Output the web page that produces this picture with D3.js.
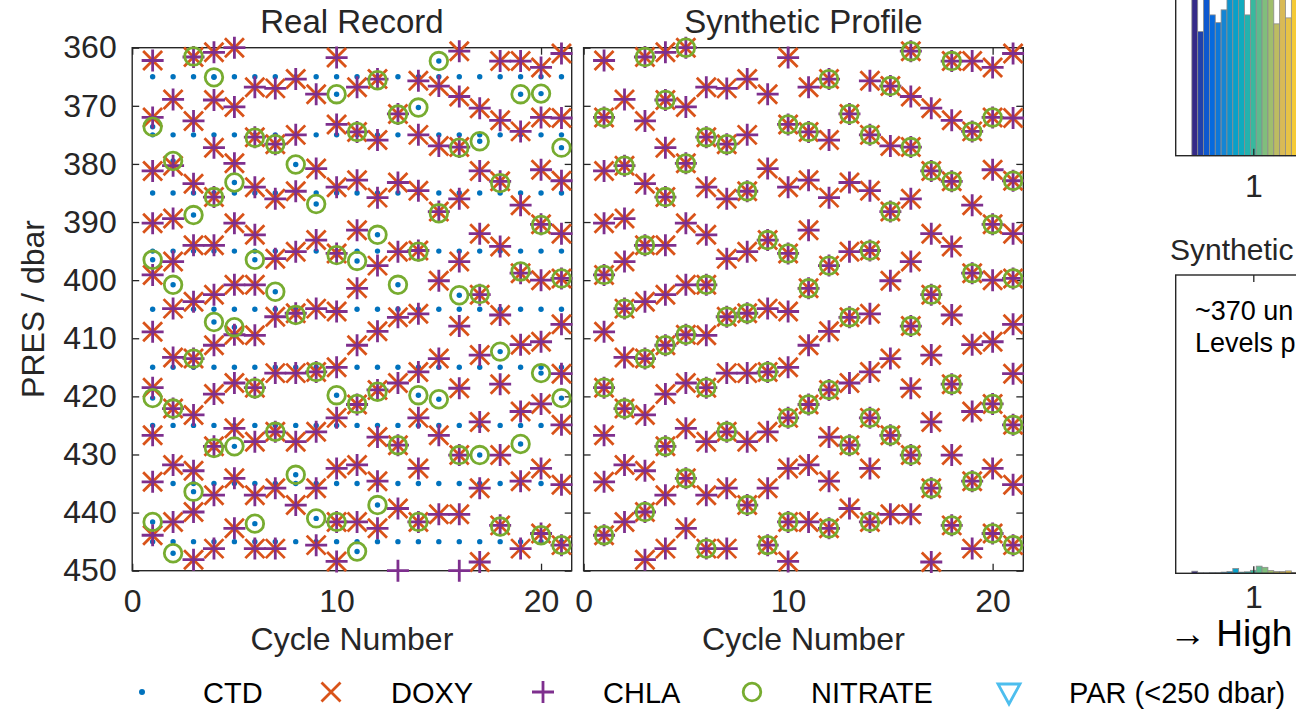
<!DOCTYPE html>
<html><head><meta charset="utf-8">
<script src="https://cdn.jsdelivr.net/npm/d3@7"></script>
<style>
body{margin:0;background:#fff;}
svg{display:block;font-family:"Liberation Sans",Arial,Helvetica,sans-serif;}
</style></head><body>
<svg id="chart" width="1296" height="711"></svg>
<script>
// ---------------- data ----------------
const cycles = [1,2,3,4,5,6,7,8,9,10,11,12,13,14,15,16,17,18,19,20,21];
const presTicks = [360,370,380,390,400,410,420,430,440,450];
const cycleTicks = [0,10,20];
const histTicks = [1];

// CTD sampling levels (real record), same for every cycle
const ctdLevelsReal = [365,375,385,395,405,415,425,435,445];

// DOXY and CHLA share their sampling pressures (per cycle)
const bgcLevels = [
  [362.2,372.0,381.2,390.2,399.1,408.9,418.5,426.7,434.7,443.9],
  [368.9,380.3,389.4,396.8,404.9,413.3,422.1,431.8,441.6],
  [361.6,372.6,383.4,394.0,403.7,413.5,423.2,432.8,439.9,448.1],
  [360.8,369.0,377.2,385.7,394.0,402.5,411.2,419.6,428.6,437.0,446.2],
  [360.0,370.2,379.9,390.2,400.8,409.4,417.7,425.5,434.1,442.7],
  [366.8,375.4,384.0,392.2,400.8,409.5,418.5,427.8,437.0,446.2],
  [367.0,376.6,386.0,396.3,406.3,416.0,426.1,435.8,446.2],
  [365.4,375.0,384.7,395.1,405.7,416.0,427.8,438.7],
  [368.0,380.8,393.1,404.9,415.8,426.1,435.8,445.6],
  [361.7,373.2,384.0,395.4,405.4,415.0,423.7,432.4,441.6,448.4],
  [366.8,374.5,382.8,391.4,401.4,411.2,421.4,431.8,441.6],
  [365.4,375.9,385.8,397.5,408.8,418.9,427.0,434.6,442.7],
  [371.4,383.2,395.1,406.4,417.7,428.4,439.3],
  [365.7,375.0,384.6,394.9,405.8,415.8,423.7,432.4,441.6],
  [366.6,376.9,388.2,400.1,413.5,426.7,440.3],
  [360.6,368.4,377.1,386.0,396.8,407.9,418.6,430.1,440.3],
  [370.4,381.2,392.0,402.5,412.9,424.4,435.8,448.5],
  [362.3,372.5,383.0,394.2,406.0,417.9,430.1,442.2],
  [362.3,374.4,387.1,398.8,411.1,422.6,434.6,446.2],
  [363.4,372.0,381.0,390.4,400.0,410.6,421.3,432.4,443.6],
  [361.0,372.1,382.9,392.0,399.7,407.6,416.1,424.9,435.2,445.6]
];
// CHLA-only samples in the real record [cycle, pres]
const chlaOnlyReal = [[13,450],[16,450]];

// NITRATE, real record (per cycle)
const nitrateReal = [
  [373.6,396.5,420.3,441.6],
  [379.5,400.8,422.1,447.0],
  [361.5,388.8,413.5,436.4],
  [365.1,385.7,407.2,428.9],
  [383.2,408.1,428.6],
  [375.5,396.5,418.6,441.9],
  [376.6,402.0,426.1],
  [380.1,406.0,433.5],
  [386.9,415.8,441.0],
  [368.0,395.7,419.8,441.6],
  [374.5,396.7,421.3,446.7],
  [365.6,392.2,419.2,438.7],
  [371.5,400.8,428.4],
  [370.3,395.1,419.8,441.6],
  [362.3,388.5,420.5],
  [377.2,402.6,430.1],
  [376.1,402.4,430.1],
  [383.3,412.3,442.4],
  [368.0,398.5,428.2],
  [367.9,390.5,416.0,443.9],
  [377.2,399.7,420.3,445.6]
];
// NITRATE, synthetic profile (per cycle)
const nitrateSynth = [
  [372.0,399.1,418.5,443.9],
  [380.3,404.9,422.1],
  [361.6,394.0,413.5,439.9],
  [369.0,385.7,411.2,428.6],
  [360.0,379.9,409.4,434.1],
  [375.4,400.8,418.5,446.2],
  [376.6,406.3,426.1],
  [384.7,405.7,438.7],
  [393.1,415.8,445.6],
  [373.2,395.4,423.7,441.6],
  [374.5,401.4,421.4],
  [365.4,397.5,418.9,442.7],
  [371.4,406.4,428.4],
  [375.0,394.9,423.7,441.6],
  [366.6,388.2,426.7],
  [360.6,377.1,407.9,430.1],
  [381.2,402.5,435.8],
  [362.3,383.0,417.9,442.2],
  [374.4,398.8,434.6],
  [372.0,390.4,421.3,443.6],
  [382.9,399.7,424.9,445.6]
];

// partially visible bar panels on the right (one bar per cycle)
const barsRealPanel  = [60,41.6,60,47.2,44.6,48.9,60,60,60,47.2,60,60,60,60,44.2,60,46.2,60,60,60,60];
const barsSynthPanel = [0.7,0.15,0.15,0.2,0.2,0.4,0.6,1.6,0.4,0.5,1.0,2.4,2.0,0.9,0.6,0.6,0.8,0.3,0.5,0.5,0.5];

const legendItems = ["CTD","DOXY","CHLA","NITRATE","PAR (<250 dbar)"];

// ---------------- drawing ----------------
const C = {ctd:"#0072BD", doxy:"#D95319", chla:"#7E2F8E", nit:"#77AC30", par:"#4DBEEE", ax:"#262626"};
const svg = d3.select("#chart");

const y = d3.scaleLinear().domain([360,450]).range([47.7,570.7]);
const xL = d3.scaleLinear().domain([0,21.5]).range([132.2,571.7]);
const xR = d3.scaleLinear().domain([0,21.5]).range([583.6,1023.3]);

function flat(arr){ return cycles.flatMap((c,i)=>arr[i].map(p=>({c,p}))); }

function styleAxis(g){
  g.attr("font-family",null).attr("font-size",null);
  g.select(".domain").remove();
  g.selectAll(".tick line").attr("stroke",C.ax).attr("stroke-width",1.3);
  g.selectAll(".tick text").attr("fill",C.ax).style("font-size","32px");
}

function panel(x, showYLabels){
  const g = svg.append("g");
  const [x0,x1] = x.range();
  g.append("g").attr("transform",`translate(0,${y(450)})`)
    .call(d3.axisBottom(x).tickValues(cycleTicks).tickSize(-7).tickPadding(18.3)).call(styleAxis);
  g.append("g").attr("transform",`translate(0,${y(360)})`)
    .call(d3.axisTop(x).tickValues(cycleTicks).tickSize(-7).tickFormat("")).call(styleAxis);
  const la = d3.axisLeft(y).tickValues(presTicks).tickSize(-7).tickPadding(15.5);
  if(!showYLabels) la.tickFormat("");
  g.append("g").attr("transform",`translate(${x0},0)`).call(la).call(styleAxis);
  g.append("g").attr("transform",`translate(${x1},0)`)
    .call(d3.axisRight(y).tickValues(presTicks).tickSize(-7).tickFormat("")).call(styleAxis);
  g.append("rect").attr("x",x0).attr("y",y(360)).attr("width",x1-x0).attr("height",y(450)-y(360))
    .attr("fill","none").attr("stroke",C.ax).attr("stroke-width",1.4);
  return g;
}

const XPATH = "M-9.5,-9.5L9.5,9.5M-9.5,9.5L9.5,-9.5";
const PPATH = "M-11,0H11M0,-11V11";
const SW = 2.8;

function dots(g, pts, x){
  g.append("g").selectAll("circle").data(pts).join("circle")
    .attr("cx",d=>x(d.c)).attr("cy",d=>y(d.p)).attr("r",2.7).attr("fill",C.ctd);
}
function marks(g, pts, x, path, color){
  g.append("g").selectAll("path").data(pts).join("path")
    .attr("d",path).attr("transform",d=>`translate(${x(d.c)},${y(d.p)})`)
    .attr("fill","none").attr("stroke",color).attr("stroke-width",SW);
}
function rings(g, pts, x){
  g.append("g").selectAll("circle").data(pts).join("circle")
    .attr("cx",d=>x(d.c)).attr("cy",d=>y(d.p)).attr("r",8.8)
    .attr("fill","none").attr("stroke",C.nit).attr("stroke-width",SW);
}

// Left: Real Record
const gL = panel(xL, true);
const ctdPts = cycles.flatMap(c=>ctdLevelsReal.map(p=>({c,p}))).concat(flat(nitrateReal));
dots(gL, ctdPts, xL);
const bgcPts = flat(bgcLevels);
marks(gL, bgcPts, xL, XPATH, C.doxy);
marks(gL, bgcPts.concat(chlaOnlyReal.map(([c,p])=>({c,p}))), xL, PPATH, C.chla);
rings(gL, flat(nitrateReal), xL);

// Right: Synthetic Profile
const gR = panel(xR, false);
marks(gR, bgcPts, xR, XPATH, C.doxy);
marks(gR, bgcPts, xR, PPATH, C.chla);
rings(gR, flat(nitrateSynth), xR);

// titles / labels
function txt(x,yy,s,size,anchor){
  return svg.append("text").attr("x",x).attr("y",yy).text(s)
    .attr("fill",C.ax).style("font-size",size+"px").attr("text-anchor",anchor||"middle");
}
txt((xL.range()[0]+xL.range()[1])/2, 33, "Real Record", 33);
txt((xR.range()[0]+xR.range()[1])/2, 33, "Synthetic Profile", 33);
txt((xL.range()[0]+xL.range()[1])/2, 650, "Cycle Number", 32);
txt((xR.range()[0]+xR.range()[1])/2, 650, "Cycle Number", 32);
svg.append("text").attr("transform","translate(44,309) rotate(-90)").attr("text-anchor","middle")
  .attr("fill",C.ax).style("font-size","32px").text("PRES / dbar");

// ---- partially visible bar panels on the right ----
const parula = d3.piecewise(d3.interpolateRgb, ['#352a87','#0363e1','#1485d4','#06a7c6','#38b99e','#92bf73','#d9ba56','#fcce2e','#f9fb0e']);
const hx = d3.scaleLinear().domain([0.5,1.5]).range([1175.7,1330.9]);
const band = d3.scaleBand().domain(cycles).range([hx(1-0.396), hx(1+0.396)]);

function barPanel(top, bottom, values){
  const yy = d3.scaleLinear().domain([0,100]).range([bottom, top]);
  const g = svg.append("g");
  g.selectAll("rect.bar").data(values).join("rect").attr("class","bar")
    .attr("x",(d,i)=>band(cycles[i])).attr("width",band.bandwidth())
    .attr("y",d=>yy(d)).attr("height",d=>yy(0)-yy(d))
    .attr("fill",(d,i)=>parula(i/20)).attr("stroke","#8c8c8c").attr("stroke-width",0.8);
  g.append("g").attr("transform",`translate(0,${bottom})`)
    .call(d3.axisBottom(hx).tickValues(histTicks).tickFormat(d3.format("d")).tickSize(-7).tickPadding(18.3)).call(styleAxis);
  g.append("g").attr("transform",`translate(0,${top})`)
    .call(d3.axisTop(hx).tickValues(histTicks).tickSize(-7).tickFormat("")).call(styleAxis);
  g.append("rect").attr("x",hx(0.5)).attr("y",top).attr("width",400).attr("height",bottom-top)
    .attr("fill","none").attr("stroke",C.ax).attr("stroke-width",1.4);
  return g;
}
barPanel(-142.6, 155.7, barsRealPanel);
const gS = barPanel(275, 573.3, barsSynthPanel);
gS.selectAll(".tick text").attr("dy",null).attr("y",35);
txt(1170, 260, "Synthetic", 30, "start");
txt(1195, 320, "~370 un", 27, "start").attr("fill","#000");
txt(1195, 351.7, "Levels p", 27, "start").attr("fill","#000");
txt(1169, 646, "\u2192 High", 37, "start").attr("fill","#000");

// ---- legend ----
const lg = svg.append("g");
const ly = 692;
lg.append("circle").attr("cx",142).attr("cy",ly).attr("r",3).attr("fill",C.ctd);
lg.append("path").attr("d",XPATH).attr("transform",`translate(331,${ly})`).attr("stroke",C.doxy).attr("stroke-width",SW).attr("fill","none");
lg.append("path").attr("d",PPATH).attr("transform",`translate(543,${ly})`).attr("stroke",C.chla).attr("stroke-width",SW).attr("fill","none");
lg.append("circle").attr("cx",752).attr("cy",ly).attr("r",8.8).attr("stroke",C.nit).attr("stroke-width",SW).attr("fill","none");
lg.append("path").attr("d","M-11,-9L11,-9L0,11Z").attr("transform",`translate(1009,${ly+1})`).attr("stroke",C.par).attr("stroke-width",SW).attr("fill","none");
const lx = [203,391,603,811,1069];
legendItems.forEach((s,i)=>{
  lg.append("text").attr("x",lx[i]).attr("y",703).text(s).attr("fill","#000").style("font-size","29px");
});
</script>
</body></html>
